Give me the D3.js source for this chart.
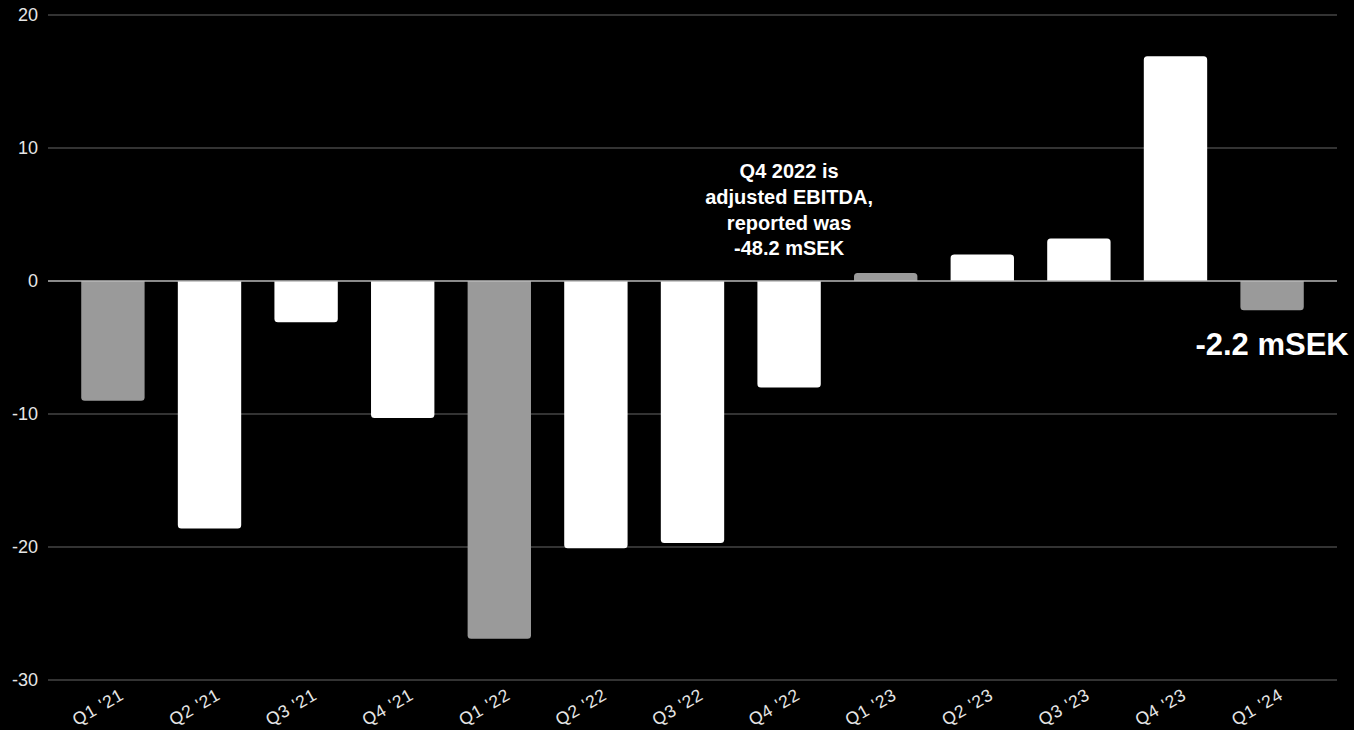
<!DOCTYPE html>
<html>
<head>
<meta charset="utf-8">
<script src="https://cdn.jsdelivr.net/npm/d3@7/dist/d3.min.js"></script>
<style>
  html, body { margin: 0; padding: 0; background: #000; }
  svg { display: block; font-family: "Liberation Sans", Arial, sans-serif; }
</style>
</head>
<body>
<svg id="chart" width="1354" height="730"></svg>
<script>
// Quarterly EBITDA, mSEK
const quarters = ["Q1 '21", "Q2 '21", "Q3 '21", "Q4 '21", "Q1 '22", "Q2 '22", "Q3 '22",
                  "Q4 '22", "Q1 '23", "Q2 '23", "Q3 '23", "Q4 '23", "Q1 '24"];
const ebitda = [-9.0, -18.6, -3.1, -10.3, -26.9, -20.1, -19.7, -8.0, 0.6, 2.0, 3.2, 16.9, -2.2];
const yTicks = [-30, -20, -10, 0, 10, 20];
const noteLines = ["Q4 2022 is", "adjusted EBITDA,", "reported was", "-48.2 mSEK"];
const noteQuarter = "Q4 '22";
const latestLabel = "-2.2 mSEK";

const svg = d3.select("#chart");
const plotLeft = 48, plotRight = 1337, plotTop = 15, plotBottom = 680;

const x = d3.scaleBand().domain(quarters).range([plotLeft, plotRight]).padding(0.344);
const y = d3.scaleLinear().domain([-30, 20]).range([plotBottom, plotTop]);

// horizontal grid
svg.append("g")
  .selectAll("line")
  .data(yTicks.filter(t => t !== 0))
  .join("line")
  .attr("x1", plotLeft).attr("x2", plotRight)
  .attr("y1", d => y(d)).attr("y2", d => y(d))
  .attr("stroke", "#444").attr("stroke-width", 1.3);

// y tick labels
svg.append("g")
  .selectAll("text")
  .data(yTicks)
  .join("text")
  .attr("x", 38).attr("y", d => y(d))
  .attr("dy", "0.36em")
  .attr("text-anchor", "end")
  .attr("fill", "#e6e6e6")
  .attr("font-size", 18)
  .text(d => d);

// bar with rounded corners on the far end only
function barPath(x0, w, yBase, yEnd, r) {
  const dir = yEnd > yBase ? 1 : -1;
  const h = Math.abs(yEnd - yBase);
  r = Math.min(r, h / 2, w / 2);
  return `M${x0},${yBase}` +
    `V${yEnd - dir * r}` +
    `Q${x0},${yEnd} ${x0 + r},${yEnd}` +
    `H${x0 + w - r}` +
    `Q${x0 + w},${yEnd} ${x0 + w},${yEnd - dir * r}` +
    `V${yBase}Z`;
}

const data = quarters.map((q, i) => ({ q, v: ebitda[i] }));

svg.append("g")
  .selectAll("path")
  .data(data)
  .join("path")
  .attr("d", d => barPath(x(d.q), x.bandwidth(), y(0), y(d.v), 3.5))
  .attr("fill", d => d.q.startsWith("Q1") ? "#9a9a9a" : "#ffffff");

// zero line
svg.append("line")
  .attr("x1", plotLeft).attr("x2", plotRight)
  .attr("y1", y(0)).attr("y2", y(0))
  .attr("stroke", "#b8b8b8").attr("stroke-width", 1.5);

// x tick labels, rotated
svg.append("g")
  .selectAll("text")
  .data(quarters)
  .join("text")
  .attr("transform", d => `translate(${x(d) + x.bandwidth() / 2 - 15},${707}) rotate(-30)`)
  .attr("text-anchor", "middle")
  .attr("dy", "0.35em")
  .attr("fill", "#e6e6e6")
  .attr("font-size", 17.5)
  .attr("letter-spacing", 0.8)
  .text(d => d);

// note above Q4 '22
const noteX = x(noteQuarter) + x.bandwidth() / 2;
svg.append("text")
  .attr("text-anchor", "middle")
  .attr("fill", "#fff")
  .attr("font-weight", "bold")
  .attr("font-size", 20)
  .selectAll("tspan")
  .data(noteLines)
  .join("tspan")
  .attr("x", noteX)
  .attr("y", (d, i) => 178 + i * 25.8)
  .text(d => d);

// latest quarter value
const last = data[data.length - 1];
svg.append("text")
  .attr("x", x(last.q) + x.bandwidth() / 2)
  .attr("y", 355)
  .attr("text-anchor", "middle")
  .attr("fill", "#fff")
  .attr("font-weight", "bold")
  .attr("font-size", 31)
  .text(latestLabel);
</script>
</body>
</html>
